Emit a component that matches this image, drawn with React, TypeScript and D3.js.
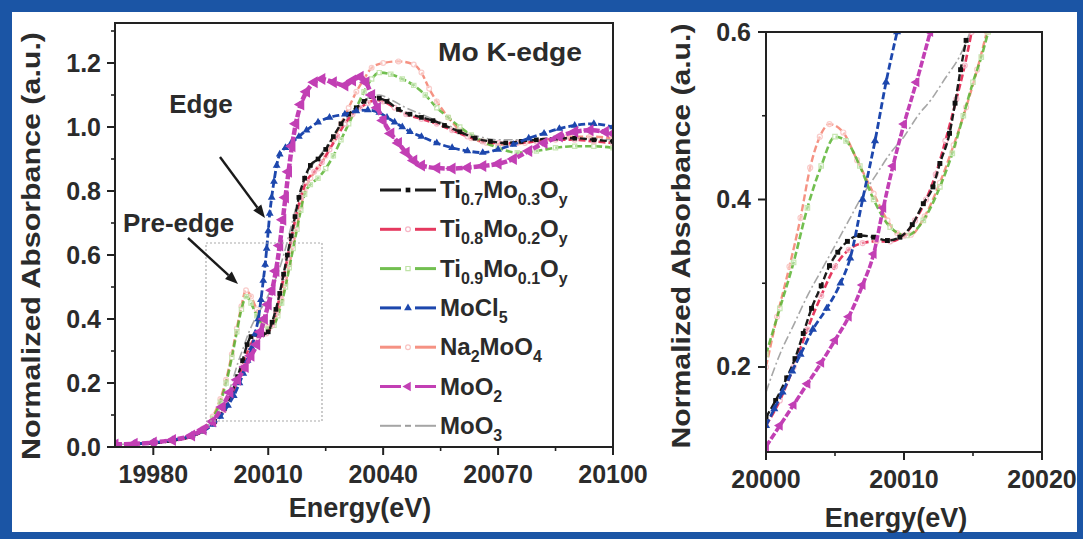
import { useEffect, useRef } from 'react';
import * as d3 from 'd3';

type Pt = [number, number];

// ---- full range spectra (left panel), [energy eV, normalized absorbance]
const ti07Full: Pt[] = [[19970,0.008],[19980,0.012],[19985,0.02],[19990,0.033],[19993,0.05],[19996,0.08],[19998.5,0.12],[20000.5,0.17],[20002,0.22],[20003.3,0.27],[20004.5,0.32],[20005.5,0.345],[20007,0.352],[20008.5,0.352],[20010,0.36],[20011,0.39],[20012,0.43],[20013,0.48],[20014,0.54],[20015,0.6],[20016,0.66],[20017,0.72],[20018,0.78],[20019.5,0.84],[20021,0.88],[20023,0.9],[20025,0.93],[20027,0.97],[20029,1.01],[20031,1.04],[20033,1.06],[20035,1.08],[20037,1.095],[20039,1.09],[20041,1.08],[20044,1.055],[20047,1.04],[20050,1.03],[20053,1.02],[20056,1.005],[20060,0.985],[20064,0.965],[20068,0.955],[20072,0.95],[20076,0.955],[20080,0.96],[20085,0.965],[20090,0.965],[20095,0.96],[20100,0.955]];
const ti08Full: Pt[] = [[19970,0.008],[19980,0.012],[19985,0.02],[19990,0.033],[19993,0.05],[19996,0.078],[19998.5,0.115],[20000.5,0.16],[20002,0.21],[20003.5,0.26],[20005,0.31],[20006.5,0.34],[20008,0.35],[20009.5,0.355],[20011,0.38],[20012,0.42],[20013,0.47],[20014,0.53],[20015,0.59],[20016,0.65],[20017.2,0.72],[20018.5,0.78],[20020,0.83],[20022,0.86],[20024,0.89],[20026,0.93],[20028,0.97],[20030,1.01],[20032,1.04],[20034,1.06],[20036,1.075],[20038,1.085],[20040,1.08],[20043,1.06],[20046,1.04],[20050,1.025],[20054,1.01],[20058,0.99],[20062,0.97],[20066,0.955],[20070,0.95],[20075,0.95],[20080,0.955],[20085,0.96],[20090,0.96],[20095,0.955],[20100,0.95]];
const ti09Full: Pt[] = [[19970,0.008],[19980,0.012],[19985,0.02],[19990,0.035],[19993,0.055],[19995.5,0.09],[19997.5,0.14],[19999,0.2],[20000.5,0.28],[20001.8,0.36],[20003,0.43],[20004.3,0.47],[20005.5,0.45],[20007,0.41],[20008.5,0.38],[20010,0.37],[20011.5,0.38],[20012.5,0.41],[20013.5,0.45],[20014.5,0.5],[20015.5,0.56],[20016.5,0.62],[20017.5,0.68],[20018.5,0.74],[20019.5,0.79],[20021,0.82],[20023,0.84],[20025,0.87],[20027,0.91],[20029,0.96],[20031,1.01],[20033,1.06],[20035,1.11],[20037,1.15],[20039,1.17],[20042,1.165],[20045,1.15],[20048,1.13],[20051,1.1],[20054,1.06],[20057,1.03],[20060,1.0],[20063,0.975],[20066,0.955],[20070,0.935],[20075,0.92],[20080,0.925],[20085,0.935],[20090,0.94],[20095,0.94],[20100,0.935]];
const mocl5Full: Pt[] = [[19970,0.008],[19975,0.01],[19980,0.014],[19985,0.022],[19990,0.035],[19993,0.05],[19995.5,0.07],[19997.5,0.095],[19999.5,0.13],[20001,0.16],[20002.5,0.2],[20003.5,0.23],[20004.6,0.27],[20005.7,0.31],[20006.6,0.355],[20007.4,0.4],[20008.1,0.46],[20008.7,0.52],[20009.2,0.57],[20009.6,0.62],[20010,0.675],[20010.4,0.73],[20010.9,0.78],[20011.5,0.83],[20012.2,0.88],[20013,0.915],[20014.5,0.935],[20016,0.95],[20018,0.97],[20020,0.99],[20023,1.015],[20026,1.03],[20030,1.04],[20033,1.05],[20036,1.053],[20039,1.045],[20041,1.03],[20043,1.015],[20045,1.0],[20047,0.985],[20050,0.97],[20054,0.95],[20058,0.935],[20062,0.925],[20066,0.92],[20070,0.93],[20074,0.945],[20078,0.965],[20082,0.98],[20086,0.995],[20090,1.005],[20095,1.01],[20100,1.0]];
const na2Full: Pt[] = [[19970,0.008],[19980,0.012],[19985,0.02],[19990,0.036],[19993,0.058],[19995.5,0.095],[19997.5,0.15],[19999,0.21],[20000.5,0.29],[20001.8,0.37],[20003,0.44],[20004.2,0.49],[20005.5,0.47],[20007,0.43],[20008.5,0.39],[20010,0.375],[20011.5,0.39],[20012.5,0.42],[20013.5,0.46],[20014.5,0.51],[20015.5,0.57],[20016.5,0.63],[20017.5,0.69],[20018.5,0.75],[20019.5,0.8],[20021,0.84],[20023,0.87],[20025,0.91],[20027,0.96],[20029,1.01],[20031,1.06],[20033,1.11],[20035,1.15],[20037,1.185],[20040,1.2],[20044,1.205],[20048,1.195],[20050,1.17],[20052,1.12],[20054,1.08],[20057,1.03],[20060,0.99],[20063,0.965],[20067,0.95],[20072,0.945],[20077,0.95],[20082,0.96],[20088,0.97],[20094,0.97],[20100,0.965]];
const moo2Full: Pt[] = [[19970,0.008],[19975,0.01],[19980,0.014],[19985,0.022],[19990,0.036],[19993,0.055],[19995.5,0.08],[19998,0.125],[20000,0.17],[20002,0.21],[20004,0.25],[20005.5,0.285],[20007,0.32],[20008,0.36],[20009,0.4],[20010,0.445],[20011,0.49],[20012,0.55],[20013,0.63],[20013.8,0.71],[20014.5,0.78],[20015.3,0.86],[20016.2,0.94],[20017.2,1.01],[20018.5,1.07],[20020,1.11],[20022,1.14],[20024,1.15],[20027,1.14],[20030,1.13],[20032,1.145],[20034,1.157],[20035.5,1.14],[20037,1.1],[20038.5,1.06],[20040,1.02],[20042,0.98],[20044,0.95],[20046,0.92],[20048,0.895],[20050,0.88],[20054,0.872],[20058,0.87],[20062,0.873],[20066,0.878],[20070,0.885],[20074,0.9],[20078,0.925],[20082,0.95],[20086,0.97],[20090,0.985],[20094,0.99],[20098,0.985],[20100,0.98]];
const moo3Full: Pt[] = [[19970,0.008],[19980,0.012],[19985,0.02],[19990,0.034],[19993,0.055],[19996,0.09],[19998.5,0.14],[20000.5,0.2],[20002,0.26],[20003.5,0.31],[20005,0.36],[20007,0.41],[20009,0.45],[20011,0.5],[20013,0.56],[20014.5,0.62],[20016,0.69],[20017.5,0.76],[20019,0.82],[20021,0.87],[20024,0.92],[20027,0.97],[20030,1.02],[20033,1.06],[20036,1.09],[20039,1.1],[20042,1.085],[20046,1.06],[20050,1.04],[20055,1.015],[20060,0.99],[20065,0.97],[20070,0.96],[20080,0.96],[20090,0.965],[20100,0.96]];

// ---- pre-edge zoom (right panel)
const ti07Zoom: Pt[] = [[20000,0.14],[20000.7,0.16],[20001.5,0.187],[20002.1,0.21],[20002.7,0.24],[20003.3,0.27],[20004,0.297],[20004.6,0.321],[20005.2,0.337],[20005.9,0.35],[20006.8,0.357],[20007.8,0.355],[20008.8,0.351],[20009.7,0.355],[20010.6,0.37],[20011.4,0.395],[20012.1,0.415],[20012.6,0.443],[20013.3,0.479],[20013.7,0.515],[20014.1,0.555],[20014.5,0.59]];
const ti08Zoom: Pt[] = [[20000,0.13],[20001,0.16],[20002,0.2],[20003,0.245],[20004,0.285],[20005,0.32],[20006,0.34],[20007,0.348],[20008,0.35],[20009,0.35],[20010,0.357],[20010.8,0.375],[20011.6,0.4],[20012.3,0.43],[20013,0.47],[20013.8,0.52],[20014.4,0.56],[20014.9,0.6]];
const ti09Zoom: Pt[] = [[20000,0.215],[20001,0.27],[20002,0.325],[20003,0.39],[20004,0.44],[20005,0.475],[20005.8,0.47],[20006.8,0.44],[20007.8,0.4],[20009,0.367],[20010.2,0.357],[20011.4,0.375],[20012.6,0.415],[20013.5,0.455],[20014.3,0.5],[20015,0.54],[20015.6,0.57],[20016.1,0.6]];
const mocl5Zoom: Pt[] = [[20000,0.13],[20000.6,0.15],[20001.2,0.17],[20001.9,0.195],[20002.5,0.215],[20003.4,0.245],[20004.4,0.27],[20005.4,0.3],[20006.1,0.33],[20007,0.4],[20007.9,0.47],[20008.7,0.54],[20009.5,0.6]];
const na2Zoom: Pt[] = [[20000,0.2],[20000.8,0.26],[20001.7,0.32],[20002.5,0.378],[20003.2,0.438],[20003.9,0.475],[20004.6,0.49],[20005.6,0.48],[20006.6,0.447],[20007.8,0.407],[20008.8,0.375],[20009.5,0.36],[20010.5,0.358],[20011.5,0.38],[20012.6,0.42],[20013.6,0.465],[20014.5,0.51],[20015.3,0.555],[20016,0.6]];
const moo2Zoom: Pt[] = [[20000,0.105],[20001,0.13],[20002,0.155],[20003,0.18],[20004,0.205],[20005,0.232],[20006,0.26],[20007,0.298],[20007.8,0.335],[20008.5,0.39],[20009.2,0.44],[20010,0.49],[20010.9,0.54],[20011.9,0.6]];
const moo3Zoom: Pt[] = [[20000,0.17],[20001,0.215],[20002,0.25],[20003,0.285],[20004,0.315],[20005,0.345],[20006,0.375],[20007,0.405],[20008,0.43],[20009,0.455],[20010,0.475],[20011,0.5],[20012,0.52],[20013,0.545],[20014,0.57],[20014.8,0.6]];

// legend labels: even index = normal text, odd index = subscript
const legendParts = [
  ['Ti', '0.7', 'Mo', '0.3', 'O', 'y'],
  ['Ti', '0.8', 'Mo', '0.2', 'O', 'y'],
  ['Ti', '0.9', 'Mo', '0.1', 'O', 'y'],
  ['MoCl', '5'],
  ['Na', '2', 'MoO', '4'],
  ['MoO', '2'],
  ['MoO', '3'],
];

const fullXTicks = [19980, 20010, 20040, 20070, 20100];
const fullXMinor = [19995, 20025, 20055, 20085];
const fullYTicks = [0, 0.2, 0.4, 0.6, 0.8, 1.0, 1.2];
const fullYMinor = [0.1, 0.3, 0.5, 0.7, 0.9, 1.1, 1.3];
const zoomXTicks = [20000, 20010, 20020];
const zoomXMinor = [20005, 20015];
const zoomYTicks = [0.2, 0.4, 0.6];
const zoomYMinor = [0.3, 0.5];

const W = 1083;
const H = 539;
const FONT = '"Liberation Sans", Arial, Helvetica, sans-serif';
const INK = '#2b2b2b';

const STYLES = [
  { color: '#1c1c1c', width: 2.4, dash: '7,3', shape: 'square', fill: '#111', stroke: 'none', size: 22, op: 1 },
  { color: '#e3244e', width: 2.6, dash: '7,3', shape: 'circle', fill: 'none', stroke: '#f6b6c6', size: 18, op: 0.9 },
  { color: '#5ab532', width: 2.6, dash: '7,3', shape: 'square', fill: 'none', stroke: '#bfe3a6', size: 18, op: 0.85 },
  { color: '#1d47ad', width: 2.8, dash: '7,3', shape: 'triangle', fill: '#1d47ad', stroke: 'none', size: 26, op: 1 },
  { color: '#f4806e', width: 2.4, dash: '7,3', shape: 'circle', fill: 'none', stroke: '#f9c4c2', size: 18, op: 0.85 },
  { color: '#c23fb4', width: 3.6, dash: '7,2', shape: 'triLeft', fill: '#c23fb4', stroke: 'none', size: 40, op: 1 },
  { color: '#9c9c9c', width: 1.6, dash: '9,3,2,3', shape: null, fill: 'none', stroke: 'none', size: 0, op: 0.9 },
];
const DRAW_ORDER = [6, 4, 2, 1, 0, 3, 5];

const symbolFor = (shape: string, size: number) => {
  const t = shape === 'square' ? d3.symbolSquare : shape === 'circle' ? d3.symbolCircle : d3.symbolTriangle;
  return d3.symbol().type(t).size(size)();
};

const App = () => {
  const svgRef = useRef<SVGSVGElement>(null);

  useEffect(() => {
    const svg = d3.select(svgRef.current);
    svg.selectAll('*').remove();

    // blue frame of the figure
    svg.append('rect').attr('width', W).attr('height', H).attr('fill', '#1b55a5');
    svg.append('rect').attr('x', 12).attr('y', 12).attr('width', 1065).attr('height', 520).attr('fill', '#fff');

    const panels = [
      {
        id: 'full', x0: 115, x1: 613, y0: 23, y1: 447,
        xd: [19970, 20100], yd: [0, 1.325],
        data: [ti07Full, ti08Full, ti09Full, mocl5Full, na2Full, moo2Full, moo3Full],
        xt: fullXTicks, xm: fullXMinor, yt: fullYTicks, ym: fullYMinor,
        xLabY: 483, yLabX: 101, xTitle: [360, 517], yTitle: [31, 246, 428], mk: 1, thick: 1.25,
      },
      {
        id: 'zoom', x0: 766, x1: 1042, y0: 32, y1: 452,
        xd: [20000, 20020], yd: [0.0985, 0.6],
        data: [ti07Zoom, ti08Zoom, ti09Zoom, mocl5Zoom, na2Zoom, moo2Zoom, moo3Zoom],
        xt: zoomXTicks, xm: zoomXMinor, yt: zoomYTicks, ym: zoomYMinor,
        xLabY: 488, yLabX: 751, xTitle: [896, 527], yTitle: [681, 236, 425], mk: 1.1, thick: 1,
      },
    ];

    panels.forEach((p) => {
      const x = d3.scaleLinear().domain(p.xd).range([p.x0, p.x1]);
      const y = d3.scaleLinear().domain(p.yd).range([p.y1, p.y0]);

      svg.append('clipPath').attr('id', `clip-${p.id}`)
        .append('rect').attr('x', p.x0).attr('y', p.y0)
        .attr('width', p.x1 - p.x0).attr('height', p.y1 - p.y0);

      const g = svg.append('g').attr('clip-path', `url(#clip-${p.id})`);
      const line = d3.line<Pt>().x(d => x(d[0])).y(d => y(d[1])).curve(d3.curveMonotoneX);

      DRAW_ORDER.forEach((i) => {
        const s = STYLES[i];
        const pts = p.data[i];
        // MoO2 is drawn as a heavy band in the overview panel
        const boost = i === 5 ? p.thick : 1;
        const sg = g.append('g').attr('opacity', s.op);
        sg.append('path').attr('d', line(pts)).attr('fill', 'none')
          .attr('stroke', s.color).attr('stroke-width', s.width * boost)
          .attr('stroke-dasharray', s.dash).attr('stroke-linejoin', 'round');
        if (s.shape) {
          const sym = symbolFor(s.shape, s.size * p.mk * boost * boost);
          sg.selectAll('path.mk').data(pts).enter().append('path')
            .attr('class', 'mk').attr('d', sym)
            .attr('transform', d => `translate(${x(d[0])},${y(d[1])})${s.shape === 'triLeft' ? ' rotate(-90)' : ''}`)
            .attr('fill', s.fill === 'none' ? '#fff' : s.fill)
            .attr('fill-opacity', s.fill === 'none' ? 0.4 : 1)
            .attr('stroke', s.stroke).attr('stroke-width', 1.2);
        }
      });

      // frame
      svg.append('rect').attr('x', p.x0).attr('y', p.y0)
        .attr('width', p.x1 - p.x0).attr('height', p.y1 - p.y0)
        .attr('fill', 'none').attr('stroke', '#222').attr('stroke-width', 2);

      const ax = svg.append('g').attr('stroke', '#222');
      p.xt.forEach(v => ax.append('line').attr('x1', x(v)).attr('x2', x(v)).attr('y1', p.y1).attr('y2', p.y1 + 8).attr('stroke-width', 2));
      p.xm.forEach(v => ax.append('line').attr('x1', x(v)).attr('x2', x(v)).attr('y1', p.y1).attr('y2', p.y1 + 4).attr('stroke-width', 1.6));
      p.yt.forEach(v => ax.append('line').attr('x1', p.x0 - 8).attr('x2', p.x0).attr('y1', y(v)).attr('y2', y(v)).attr('stroke-width', 2));
      p.ym.forEach(v => ax.append('line').attr('x1', p.x0 - 4).attr('x2', p.x0).attr('y1', y(v)).attr('y2', y(v)).attr('stroke-width', 1.6));

      const txt = svg.append('g').attr('font-family', FONT).attr('font-weight', 700).attr('fill', INK);
      p.xt.forEach(v => txt.append('text').attr('x', x(v)).attr('y', p.xLabY)
        .attr('text-anchor', 'middle').attr('font-size', 25).text(String(v)));
      p.yt.forEach(v => txt.append('text').attr('x', p.yLabX).attr('y', y(v) + 8.5)
        .attr('text-anchor', 'end').attr('font-size', 25).text(v.toFixed(1)));

      txt.append('text').attr('x', p.xTitle[0]).attr('y', p.xTitle[1])
        .attr('text-anchor', 'middle').attr('font-size', 27).text('Energy(eV)');
      txt.append('text')
        .attr('transform', `translate(${p.yTitle[0] + 9},${p.yTitle[1]}) rotate(-90)`)
        .attr('text-anchor', 'middle').attr('font-size', 25)
        .attr('textLength', p.yTitle[2]).attr('lengthAdjust', 'spacingAndGlyphs')
        .text('Normalized Absorbance (a.u.)');
    });

    // dotted box marking the zoomed region
    svg.append('rect').attr('x', 206).attr('y', 243).attr('width', 116).attr('height', 178)
      .attr('fill', 'none').attr('stroke', '#aaa').attr('stroke-width', 1.2).attr('stroke-dasharray', '2,2');

    // annotations
    const ann = svg.append('g').attr('font-family', FONT).attr('font-weight', 700).attr('fill', INK);
    ann.append('text').attr('x', 438).attr('y', 61).attr('font-size', 26)
      .attr('textLength', 144).attr('lengthAdjust', 'spacingAndGlyphs').text('Mo K-edge');
    ann.append('text').attr('x', 201).attr('y', 113).attr('text-anchor', 'middle').attr('font-size', 26).text('Edge');
    ann.append('text').attr('x', 123).attr('y', 232).attr('font-size', 26).text('Pre-edge');

    const arrow = (x1: number, y1: number, x2: number, y2: number) => {
      const a = Math.atan2(y2 - y1, x2 - x1);
      const L = 13, Wd = 5;
      const bx = x2 - L * Math.cos(a), by = y2 - L * Math.sin(a);
      ann.append('line').attr('x1', x1).attr('y1', y1).attr('x2', bx).attr('y2', by)
        .attr('stroke', '#1a1a1a').attr('stroke-width', 2.4);
      ann.append('path')
        .attr('d', `M${x2},${y2}L${bx + Wd * Math.sin(a)},${by - Wd * Math.cos(a)}L${bx - Wd * Math.sin(a)},${by + Wd * Math.cos(a)}Z`)
        .attr('fill', '#1a1a1a');
    };
    arrow(220, 157, 265, 218);
    arrow(188, 238, 238, 284);

    // legend
    const lg = svg.append('g');
    legendParts.forEach((parts, i) => {
      const s = STYLES[i];
      const cy = 190 + i * 39.3;
      lg.append('line').attr('x1', 380).attr('x2', 401).attr('y1', cy).attr('y2', cy)
        .attr('stroke', s.color).attr('stroke-width', s.shape ? 3 : 2).attr('opacity', s.op);
      lg.append('line').attr('x1', 415).attr('x2', 436).attr('y1', cy).attr('y2', cy)
        .attr('stroke', s.color).attr('stroke-width', s.shape ? 3 : 2).attr('opacity', s.op);
      if (s.shape) {
        lg.append('path').attr('d', symbolFor(s.shape, s.size))
          .attr('transform', `translate(408,${cy})${s.shape === 'triLeft' ? ' rotate(-90)' : ''}`)
          .attr('fill', s.fill === 'none' ? '#fff' : s.fill).attr('stroke', s.stroke).attr('stroke-width', 1.2);
      } else {
        lg.append('line').attr('x1', 405).attr('x2', 411).attr('y1', cy).attr('y2', cy)
          .attr('stroke', s.color).attr('stroke-width', 2);
      }
      const t = lg.append('text').attr('x', 440).attr('y', cy + 8)
        .attr('font-family', FONT).attr('font-weight', 700).attr('fill', INK).attr('font-size', 24);
      parts.forEach((part, k) => {
        if (k % 2 === 0) {
          t.append('tspan').attr('font-size', 24).attr('dy', k === 0 ? 0 : -7).text(part);
        } else {
          t.append('tspan').attr('font-size', 16).attr('dy', 7).text(part);
        }
      });
    });
  }, []);

  return <svg ref={svgRef} width={W} height={H} style={{ position: 'absolute', left: 0, top: 0 }} />;
};

export default App;
